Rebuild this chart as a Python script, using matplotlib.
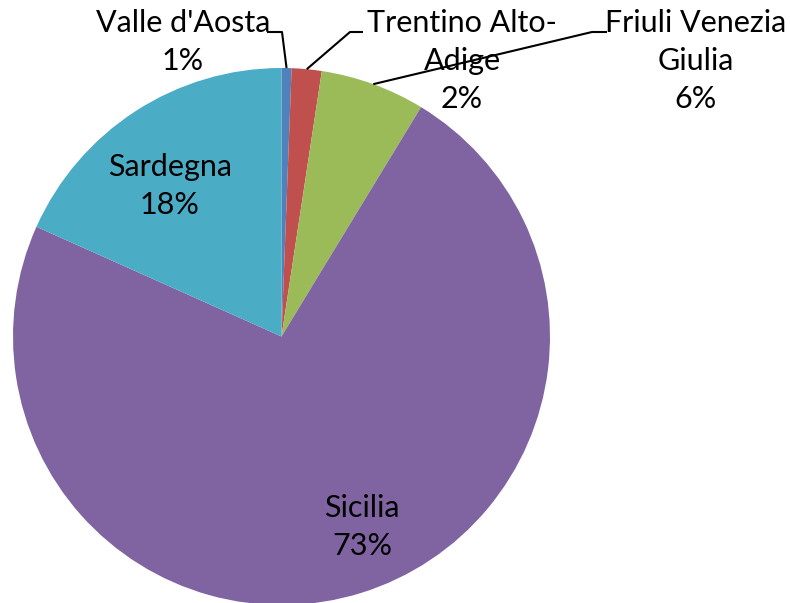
import numpy as np
import matplotlib.pyplot as plt

# Dati
regioni = ["Valle d'Aosta", "Trentino Alto-\nAdige", "Friuli Venezia\nGiulia", "Sicilia", "Sardegna"]
quote = [0.6, 1.8, 6.3, 73.0, 18.3]
colori = ["#4F81BD", "#C0504D", "#9BBB59", "#8064A2", "#4BACC6"]

plt.rcParams['font.family'] = ['Lato', 'DejaVu Sans']

fig = plt.figure(figsize=(7.9, 6.03), dpi=100)
ax = fig.add_axes([0, 0, 1, 1])

cx, cy, r = 281.5, 603 - 336.5, 268.5
wedges, _ = ax.pie(quote, colors=colori, startangle=90, counterclock=False,
                   center=(cx, cy), radius=r, frame=True,
                   wedgeprops=dict(linewidth=0))
ax.set_xlim(0, 790)
ax.set_ylim(0, 603)
ax.set_aspect('equal')
ax.axis('off')

tot = sum(quote)
etichette = [f"{n}\n{q / tot * 100:.0f}%" for n, q in zip(regioni, quote)]

fs = 22
ls = 1.42
# etichette interne
ax.text(170, 603 - 186, etichette[4], ha='center', va='center', fontsize=fs, linespacing=ls)
ax.text(362, 603 - 527, etichette[3], ha='center', va='center', fontsize=fs, linespacing=ls)

# etichette esterne con linee guida
esterne = [
    (0, (183, 603 - 42), (282, 603 - 32), (267, 603 - 32)),
    (1, (462, 603 - 61), (350, 603 - 32), (363, 603 - 32)),
    (2, (696, 603 - 61), (592, 603 - 32), (607, 603 - 32)),
]
for i, pos, gomito, fine in esterne:
    w = wedges[i]
    ang = np.deg2rad((w.theta1 + w.theta2) / 2)
    px, py = cx + r * np.cos(ang), cy + r * np.sin(ang)
    ax.plot([px, gomito[0], fine[0]], [py, gomito[1], fine[1]],
            color='black', lw=1.5, zorder=5, solid_capstyle='butt')
    ax.text(pos[0], pos[1], etichette[i], ha='center', va='center',
            fontsize=fs, linespacing=ls, zorder=6)

fig.savefig("out.png", dpi=100)
